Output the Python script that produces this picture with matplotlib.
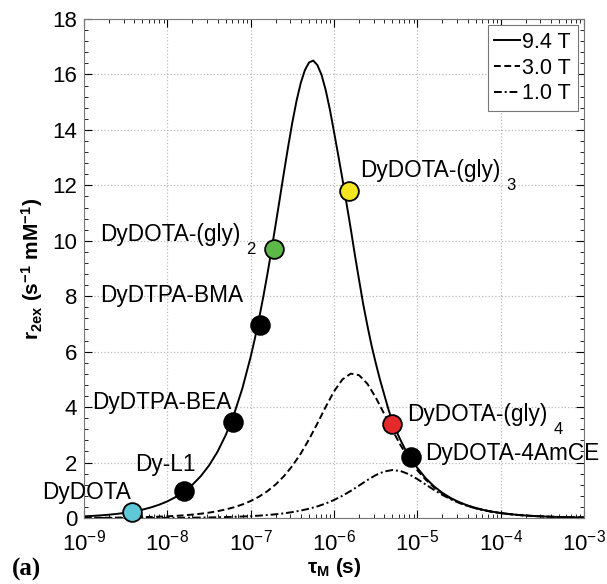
import numpy as np
import matplotlib
matplotlib.use('Agg')
import matplotlib.pyplot as plt
from matplotlib.ticker import AutoMinorLocator, FixedLocator, NullFormatter

plt.rcParams['font.family'] = ['Liberation Sans', 'DejaVu Sans']
plt.rcParams['mathtext.fontset'] = 'custom'
plt.rcParams['mathtext.rm'] = 'Liberation Sans'
plt.rcParams['mathtext.it'] = 'Liberation Sans:italic'
plt.rcParams['mathtext.bf'] = 'Liberation Sans:bold'

# tau_M grid (log10 of seconds): every 0.1 decade, 0.05 around the 9.4 T peak
log_tau = np.round(np.arange(-9.0, -2.95, 0.1), 2)
log_tau_94 = np.round(np.concatenate([np.arange(-9.0, -7.05, 0.1),
                                      np.arange(-7.0, -4.975, 0.05),
                                      np.arange(-4.9, -2.95, 0.1)]), 2)

r2_94T = [0.060, 0.076, 0.095, 0.120, 0.151, 0.190, 0.239, 0.301, 0.379, 0.477,
          0.600, 0.756, 0.951, 1.197, 1.505, 1.893, 2.378, 2.985, 3.740, 4.672,
          5.813, 6.468, 7.183, 7.957, 8.787, 9.667, 10.59, 11.53, 12.48, 13.40,
          14.27, 15.04, 15.68, 16.15, 16.43, 16.50, 16.34, 15.99, 15.44, 14.74,
          13.93, 13.10, 12.25, 11.35, 10.45, 9.50, 8.60, 7.72, 6.95, 6.23,
          5.60, 5.01, 4.48, 3.95, 3.48, 3.12, 2.80, 2.50, 2.24, 2.01,
          1.808,
          1.438, 1.143, 0.908, 0.722, 0.574, 0.456, 0.362, 0.287, 0.228, 0.181,
          0.144, 0.114, 0.091, 0.072, 0.057, 0.046, 0.036, 0.029, 0.023, 0.018]
r2_30T = [0.006, 0.008, 0.010, 0.012, 0.015, 0.019, 0.024, 0.031, 0.039, 0.049,
          0.061, 0.077, 0.097, 0.123, 0.154, 0.194, 0.245, 0.308, 0.387, 0.487,
          0.613, 0.770, 0.966, 1.210, 1.511, 1.879, 2.320, 2.834, 3.408, 4.007,
          4.565, 4.995, 5.208, 5.153, 4.844, 4.352, 3.768, 3.173, 2.620, 2.135,
          1.723, 1.383, 1.106, 0.882, 0.703, 0.559, 0.445, 0.353, 0.281, 0.223,
          0.177, 0.141, 0.112, 0.089, 0.071, 0.056, 0.045, 0.035, 0.028, 0.022,
          0.018]
r2_10T = [0.001, 0.001, 0.001, 0.001, 0.002, 0.002, 0.003, 0.003, 0.004, 0.005,
          0.007, 0.008, 0.011, 0.013, 0.017, 0.021, 0.027, 0.034, 0.043, 0.054,
          0.067, 0.085, 0.107, 0.134, 0.169, 0.213, 0.267, 0.335, 0.419, 0.523,
          0.650, 0.801, 0.976, 1.169, 1.367, 1.546, 1.676, 1.730, 1.694, 1.577,
          1.405, 1.209, 1.014, 0.834, 0.678, 0.547, 0.438, 0.350, 0.279, 0.222,
          0.177, 0.141, 0.112, 0.089, 0.071, 0.056, 0.045, 0.035, 0.028, 0.022,
          0.018]

# complexes on the 9.4 T curve
names = ['DyDOTA', 'Dy-L1', 'DyDTPA-BEA', 'DyDTPA-BMA', 'DyDOTA-(gly)',
         'DyDOTA-(gly)', 'DyDOTA-(gly)', 'DyDOTA-4AmCE']
subs = ['', '', '', '', '2', '3', '4', '']
tau_pts = [3.8e-9, 1.6e-8, 6.2e-8, 1.3e-7, 1.9e-7, 1.5e-6, 5.0e-6, 8.4e-6]
r2_pts = [0.20, 0.97, 3.46, 6.97, 9.70, 11.8, 3.38, 2.19]
colors = ['#5ec8d8', 'black', 'black', 'black', '#5cb947', '#f4e621', '#e42a2a', 'black']
# label offsets (pixels) from each marker, text baseline
offsets = [(-90, 13), (-49, 20), (-141, 13), (-160, 23), (-174, 8),
           (11, 14), (15, 3), (14, -3)]

x_major = [1e-9, 1e-8, 1e-7, 1e-6, 1e-5, 1e-4, 1e-3]
x_minor = [m * d for d in x_major[:-1] for m in range(2, 10)]

fig = plt.figure(figsize=(6.07, 5.84), dpi=100)
ax = fig.add_axes([0.1384, 0.113, 0.8237, 0.8545])

ax.plot(10.0 ** log_tau_94, r2_94T, color='black', lw=1.4, ls='-', label='9.4 T')
ax.plot(10.0 ** log_tau, r2_30T, color='black', lw=1.4, ls=(0, (3.5, 1.8)), label='3.0 T')
ax.plot(10.0 ** log_tau, r2_10T, color='black', lw=1.4, ls=(0, (4, 1.5, 1, 1.5)), label='1.0 T')

for n, s, t, r, c, off in zip(names, subs, tau_pts, r2_pts, colors, offsets):
    ax.plot(t, r, 'o', ms=13.5, mfc=c, mec='black', mew=1.3, zorder=5, clip_on=False)
    lab = ax.annotate(n, (t, r), xytext=off, textcoords='offset pixels',
                      fontsize=16.3, ha='left', va='baseline', annotation_clip=False)
    if s:
        ax.annotate(s, (1, 0), xycoords=lab, xytext=(6, -8), textcoords='offset pixels',
                    fontsize=12, ha='left', va='baseline', annotation_clip=False)

ax.set_xscale('log')
ax.set_xlim(1e-9, 1e-3)
ax.set_ylim(0, 18)
ax.set_yticks(np.arange(0, 19, 2))
ax.yaxis.set_minor_locator(AutoMinorLocator(5))
ax.set_xticks(x_major)
ax.xaxis.set_minor_locator(FixedLocator(x_minor))
ax.xaxis.set_minor_formatter(NullFormatter())

ax.tick_params(which='both', direction='in', top=True, right=True, labelsize=16)
ax.tick_params(which='major', length=6, width=0.8)
ax.tick_params(which='minor', length=3, width=0.6)
ax.tick_params(axis='x', pad=8)
ax.tick_params(axis='y', pad=5)
ax.grid(True, which='major', ls=':', color='#bbbbbb', lw=0.9)
for sp in ax.spines.values():
    sp.set_color('#777777')
    sp.set_linewidth(0.8)

ax.set_xlabel(r'$\mathbf{\tau_M}$ (s)', fontsize=15, fontweight='bold', labelpad=1)
ax.set_ylabel(r'$\mathbf{r_{2ex}}$ (s$\mathbf{^{-1}}$ mM$\mathbf{^{-1}}$)',
              fontsize=15, fontweight='bold', labelpad=5)

leg = ax.legend(loc='upper right', fontsize=15.5, handlelength=1.2, handletextpad=0.1,
                borderpad=0.3, labelspacing=0.22, borderaxespad=0.3,
                fancybox=False, edgecolor='#777777', framealpha=1)
leg.get_frame().set_linewidth(0.8)

fig.text(0.02, 0.014, '(a)', fontsize=18, fontweight='bold', family='Liberation Serif')

fig.savefig('out.png', dpi=100)
